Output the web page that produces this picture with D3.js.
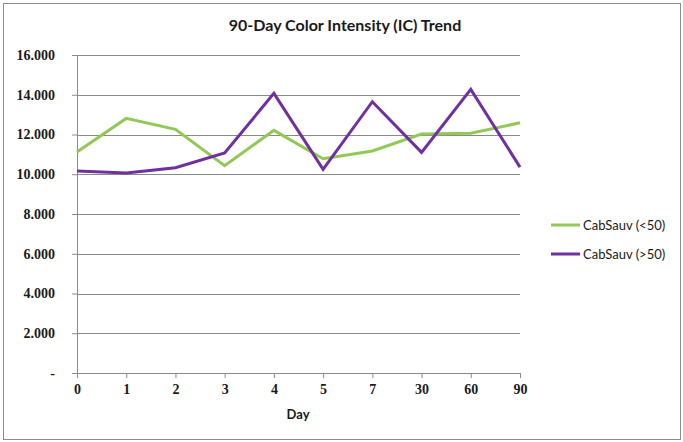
<!DOCTYPE html>
<html>
<head>
<meta charset="utf-8">
<script src="https://cdn.jsdelivr.net/npm/d3@7"></script>
<style>
  body { margin: 0; background: #fff; }
  .canvas { width: 683px; height: 442px; }
</style>
</head>
<body>
<div class="canvas"></div>
<script>
// data
const days = ['0', '1', '2', '3', '4', '5', '7', '30', '60', '90'];
const under50 = [11.12, 12.81, 12.26, 10.43, 12.21, 10.78, 11.17, 12.02, 12.06, 12.59];
const over50 = [10.16, 10.06, 10.33, 11.07, 14.07, 10.25, 13.65, 11.10, 14.27, 10.36];
const yTicks = [0, 2, 4, 6, 8, 10, 12, 14, 16];
const yTickLabels = ['-', '2.000', '4.000', '6.000', '8.000', '10.000', '12.000', '14.000', '16.000'];
const seriesNames = ['CabSauv (<50)', 'CabSauv (>50)'];
const colors = ['#92c956', '#7030a0'];

const svg = d3.select('.canvas')
    .append('svg')
    .attr('width', 683)
    .attr('height', 442);

// outer chart border
svg.append('rect')
    .attr('x', 3.5).attr('y', 3.5)
    .attr('width', 677).attr('height', 436)
    .attr('fill', 'none')
    .attr('stroke', '#8c8c8c');

const margins = { top: 55, left: 77 };
const graphWidth = 443;
const graphHeight = 318;

const graph = svg.append('g')
    .attr('transform', `translate(${margins.left}, ${margins.top})`);

const x = d3.scalePoint()
    .domain(days)
    .range([0, graphWidth]);

const y = d3.scaleLinear()
    .domain([0, 16])
    .range([graphHeight, 0]);

// gridlines
graph.append('g')
    .selectAll('line')
    .data(yTicks.slice(1))
    .enter().append('line')
    .attr('x1', 0).attr('x2', graphWidth)
    .attr('y1', d => Math.round(y(d)) + 0.5)
    .attr('y2', d => Math.round(y(d)) + 0.5)
    .attr('stroke', '#8a8a8a');

// axes
const yAxis = d3.axisLeft(y)
    .tickValues(yTicks)
    .tickSize(5)
    .tickPadding(17)
    .tickFormat((d, i) => yTickLabels[i]);

const xAxis = d3.axisBottom(x)
    .tickSize(5)
    .tickPadding(6);

const yAxisGroup = graph.append('g').call(yAxis);
const xAxisGroup = graph.append('g')
    .attr('transform', `translate(0, ${graphHeight})`)
    .call(xAxis);

[yAxisGroup, xAxisGroup].forEach(g => {
    g.selectAll('path, line').attr('stroke', '#8a8a8a');
    g.select('.domain').attr('d', g === yAxisGroup
        ? `M0.5,0V${graphHeight}` : `M0,0.5H${graphWidth}`);
    g.selectAll('text')
        .attr('font-family', 'Liberation Serif, serif')
        .attr('font-weight', 'bold')
        .attr('font-size', 14)
        .attr('fill', '#1a1a1a');
});

// lines
const line = d3.line()
    .x((d, i) => x(days[i]))
    .y(d => y(d));

[under50, over50].forEach((s, i) => {
    graph.append('path')
        .datum(s)
        .attr('d', line)
        .attr('fill', 'none')
        .attr('stroke', colors[i])
        .attr('stroke-width', 3)
        .attr('stroke-linejoin', 'miter');
});

// title and axis title
svg.append('text')
    .attr('x', 345).attr('y', 31)
    .attr('text-anchor', 'middle')
    .attr('font-family', 'Lato, sans-serif')
    .attr('font-weight', 'bold')
    .attr('font-size', 16)
    .attr('fill', '#1a1a1a')
    .text('90-Day Color Intensity (IC) Trend');

svg.append('text')
    .attr('x', 298).attr('y', 419)
    .attr('text-anchor', 'middle')
    .attr('font-family', 'Lato, sans-serif')
    .attr('font-weight', 'bold')
    .attr('font-size', 13)
    .attr('fill', '#1a1a1a')
    .text('Day');

// legend
const legend = svg.append('g');
seriesNames.forEach((name, i) => {
    const ly = 225 + i * 29;
    legend.append('line')
        .attr('x1', 551).attr('x2', 580)
        .attr('y1', ly).attr('y2', ly)
        .attr('stroke', colors[i])
        .attr('stroke-width', 3);
    legend.append('text')
        .attr('x', 583).attr('y', ly + 5)
        .attr('font-family', 'Lato, sans-serif')
        .attr('font-size', 13)
        .attr('fill', '#1a1a1a')
        .text(name);
});
</script>
</body>
</html>
